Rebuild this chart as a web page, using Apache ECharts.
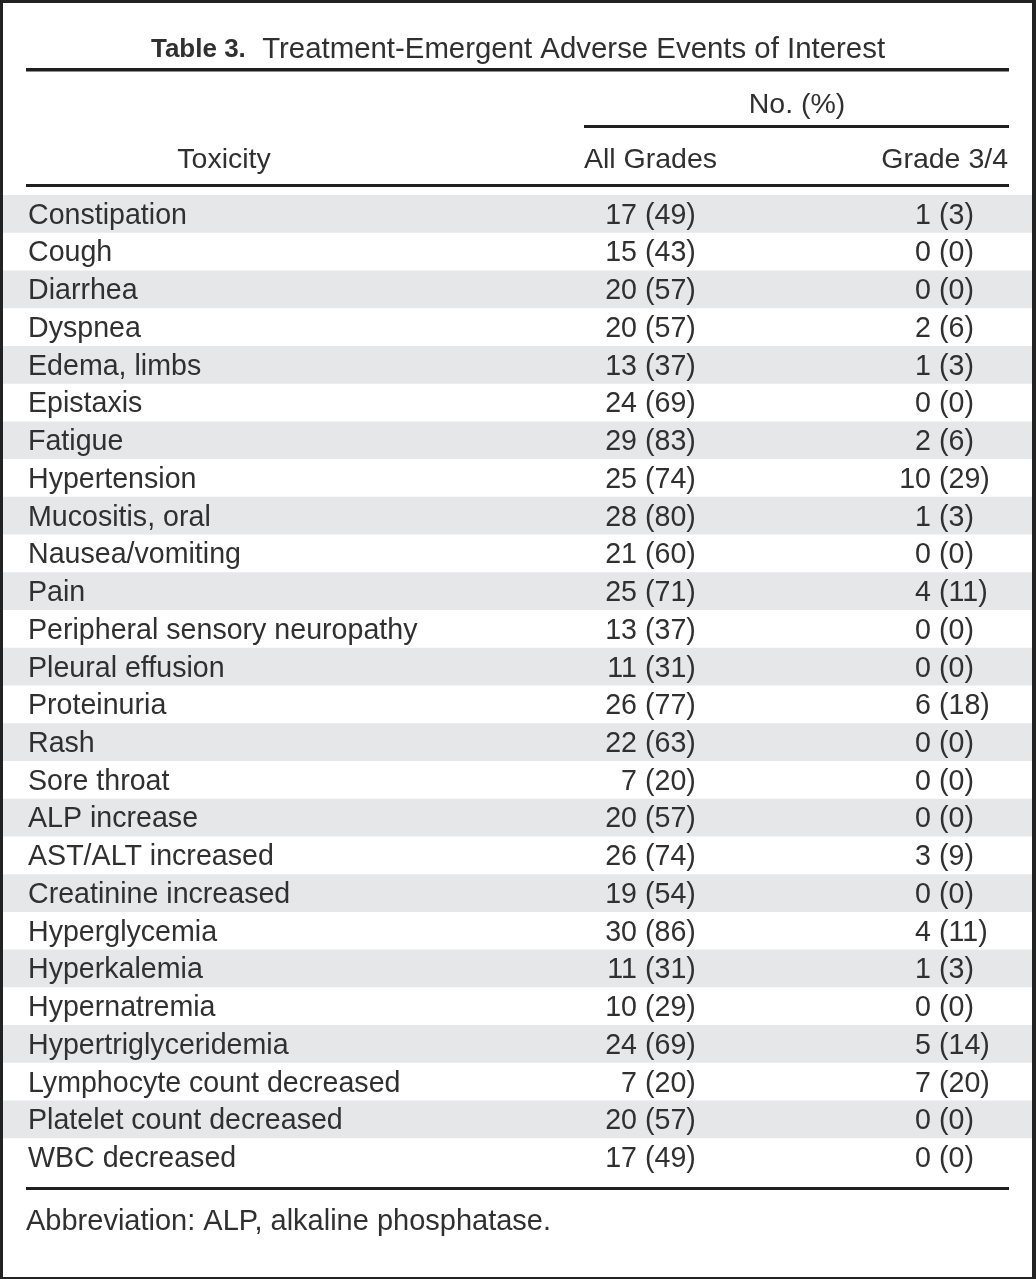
<!DOCTYPE html>
<html>
<head>
<meta charset="utf-8">
<script src="https://cdn.jsdelivr.net/npm/echarts@6/dist/echarts.min.js"></script>
<style>
  html, body { margin: 0; padding: 0; background: #fff; }
  #chart { width: 1036px; height: 1279px; }
</style>
</head>
<body>
<div id="chart"></div>
<script>
const toxicities = [
  'Constipation', 'Cough', 'Diarrhea', 'Dyspnea', 'Edema, limbs', 'Epistaxis',
  'Fatigue', 'Hypertension', 'Mucositis, oral', 'Nausea/vomiting', 'Pain',
  'Peripheral sensory neuropathy', 'Pleural effusion', 'Proteinuria', 'Rash',
  'Sore throat', 'ALP increase', 'AST/ALT increased', 'Creatinine increased',
  'Hyperglycemia', 'Hyperkalemia', 'Hypernatremia', 'Hypertriglyceridemia',
  'Lymphocyte count decreased', 'Platelet count decreased', 'WBC decreased'
];
const allGradesN = [17, 15, 20, 20, 13, 24, 29, 25, 28, 21, 25, 13, 11, 26, 22, 7, 20, 26, 19, 30, 11, 10, 24, 7, 20, 17];
const allGradesPct = [49, 43, 57, 57, 37, 69, 83, 74, 80, 60, 71, 37, 31, 77, 63, 20, 57, 74, 54, 86, 31, 29, 69, 20, 57, 49];
const grade34N = [1, 0, 0, 2, 1, 0, 2, 10, 1, 0, 4, 0, 0, 6, 0, 0, 0, 3, 0, 4, 1, 0, 5, 7, 0, 0];
const grade34Pct = [3, 0, 0, 6, 3, 0, 6, 29, 3, 0, 11, 0, 0, 18, 0, 0, 0, 9, 0, 11, 3, 0, 14, 20, 0, 0];

const titleBold = 'Table 3.';
const titleText = 'Treatment-Emergent Adverse Events of Interest';
const groupHeader = 'No. (%)';
const colHeaders = ['Toxicity', 'All Grades', 'Grade 3/4'];
const footnote = 'Abbreviation: ALP, alkaline phosphatase.';

const FONT = '"Liberation Sans", Arial, sans-serif';
const TEXT = '#303030';
const RULE = '#1f1f1f';
const SHADE = '#e6e7e8';

const chart = echarts.init(document.getElementById('chart'), null, { renderer: 'canvas' });

const rows = toxicities.map((name, i) => [i, name, allGradesN[i], allGradesPct[i], grade34N[i], grade34Pct[i]]);

function txt(x, y, text, align) {
  return {
    type: 'text', x: x, y: y + 2,
    style: { text: text, fill: TEXT, font: '28.6px ' + FONT, align: align, verticalAlign: 'middle' }
  };
}

function headText(x, y, text, align) {
  return { type: 'text', x: x, y: y, silent: true,
    style: { text: text, fill: TEXT, font: '28.5px ' + FONT, align: align, verticalAlign: 'middle' } };
}

const option = {
  animation: false,
  backgroundColor: '#fff',
  title: {
    text: '{b|' + titleBold + '}{n|  ' + titleText + '}',
    left: 'center',
    top: 30,
    textStyle: {
      fontWeight: 'normal',
      rich: {
        b: { fontFamily: FONT, fontSize: 26, fontWeight: 'bold', color: TEXT },
        n: { fontFamily: FONT, fontSize: 29.4, fontWeight: 'normal', color: TEXT }
      }
    }
  },
  grid: { left: 0, right: 0, top: 195, bottom: 103 },
  xAxis: { type: 'value', min: 0, max: 1036, show: false },
  yAxis: { type: 'category', data: toxicities, inverse: true, show: false },
  graphic: [
    // frame
    { type: 'rect', z: -10, silent: true, shape: { x: 0, y: 0, width: 1036, height: 1279 }, style: { fill: '#222' } },
    { type: 'rect', z: -9, silent: true, shape: { x: 3, y: 3, width: 1029, height: 1274 }, style: { fill: '#fff' } },
    // rules
    { type: 'rect', silent: true, shape: { x: 26, y: 68, width: 983, height: 3.5 }, style: { fill: RULE } },
    { type: 'rect', silent: true, shape: { x: 584, y: 125, width: 425, height: 3 }, style: { fill: RULE } },
    { type: 'rect', silent: true, shape: { x: 26, y: 184, width: 983, height: 3 }, style: { fill: RULE } },
    { type: 'rect', silent: true, shape: { x: 26, y: 1187, width: 983, height: 3 }, style: { fill: RULE } },
    // headers
    headText(797, 105, groupHeader, 'center'),
    headText(224, 160, colHeaders[0], 'center'),
    headText(584, 160, colHeaders[1], 'left'),
    headText(1008, 160, colHeaders[2], 'right'),
    // footnote
    { type: 'text', x: 26, y: 1222, silent: true,
      style: { text: footnote, fill: TEXT, font: '29px ' + FONT, align: 'left', verticalAlign: 'middle' } }
  ],
  series: [{
    type: 'custom',
    data: rows,
    encode: { x: 0, y: 0 },
    renderItem: function (params, api) {
      const idx = api.value(0);
      const d = rows[idx];
      const y = api.coord([0, idx])[1];
      const h = api.size([0, 1])[1];
      const x0 = api.coord([3, idx])[0];
      const x1 = api.coord([1032, idx])[0];
      const children = [];
      if (idx % 2 === 0) {
        children.push({ type: 'rect', shape: { x: x0, y: y - h / 2, width: x1 - x0, height: h }, style: { fill: SHADE } });
      }
      children.push(txt(api.coord([28, idx])[0], y, d[1], 'left'));
      children.push(txt(api.coord([637, idx])[0], y, String(d[2]), 'right'));
      children.push(txt(api.coord([645, idx])[0], y, '(' + d[3] + ')', 'left'));
      children.push(txt(api.coord([931, idx])[0], y, String(d[4]), 'right'));
      children.push(txt(api.coord([939, idx])[0], y, '(' + d[5] + ')', 'left'));
      return { type: 'group', children: children };
    }
  }]
};

chart.setOption(option);
window.addEventListener('resize', function () { chart.resize(); });
</script>
</body>
</html>
